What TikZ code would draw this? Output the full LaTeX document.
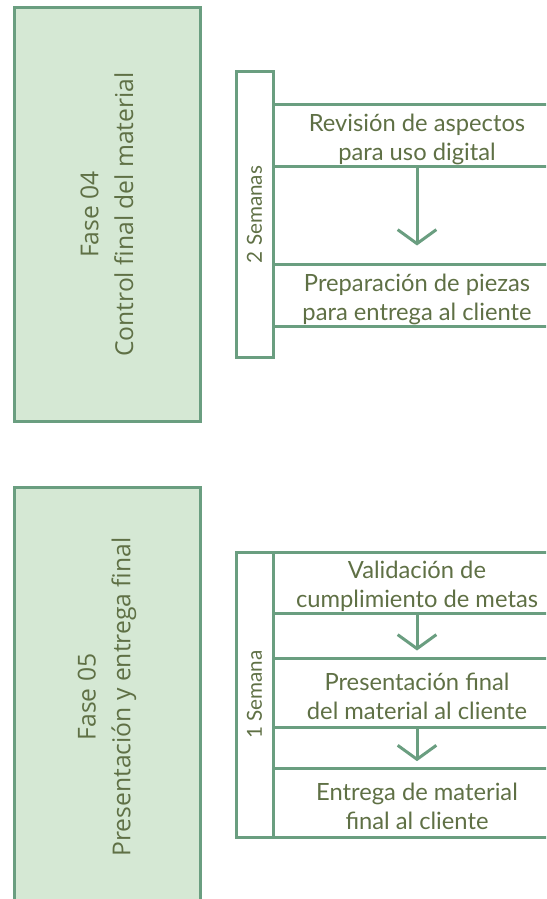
\documentclass[tikz,border=0pt]{standalone}
\usepackage{fontspec}
\setmainfont{Lato}
\newfontfamily\phasefont{Open Sans}
\usepackage{xcolor}
\usetikzlibrary{positioning, arrows.meta}
\definecolor{linegreen}{HTML}{6A9E80}
\definecolor{fillgreen}{HTML}{D5E8D4}
\definecolor{textgreen}{HTML}{5F7045}
\newcommand{\tstrut}{\rule{0pt}{19pt}}

\begin{document}
\begin{tikzpicture}[
    x=0.75pt, y=-0.75pt,
    line width=2.25pt,
    phase/.style={rectangle, draw=linegreen, fill=fillgreen, rotate=90,
        minimum height=139.5pt, inner sep=0pt, align=center, text=textgreen,
        font=\phasefont\fontsize{18.5}{26}\selectfont},
    weeks/.style={rectangle, draw=linegreen, rotate=90, minimum width=213.75pt,
        minimum height=27.75pt, inner sep=0pt, text=textgreen,
        font=\fontsize{15.5}{18}\selectfont},
    task/.style={rectangle, draw=linegreen, minimum width=216pt, inner sep=0pt,
        align=center, text=textgreen, font=\fontsize{17.8}{21.75}\selectfont},
    flow/.style={draw=linegreen, -{Straight Barb[length=10.5pt, width=29pt]}}
]
\useasboundingbox (0,0) rectangle (546,899);
\clip (0,0) rectangle (546,899);

% Fase 04
\node[phase, minimum width=309.75pt] (f4) at (107,214.5) {Fase 04\\Control final del material};
\node[weeks] (w4) at (254.5,214.5) {2 Semanas};
\node[task, minimum height=46.5pt] (a1) at (417,135) {\tstrut Revisión de aspectos\\para uso digital};
\node[task, minimum height=46.5pt] (a2) at (417,295) {\tstrut Preparación de piezas\\para entrega al cliente};

\draw[flow, shorten >=12.75pt] (a1) -- (a2);

% Fase 05
\node[phase, minimum width=315pt] (f5) at (107,697) {Fase 05\\Presentación y entrega final};
\node[weeks] (w5) at (254.5,694.5) {1 Semana};
\node[task, minimum height=45.75pt] (b1) at (417,582.5) {\tstrut Validación de\\cumplimiento de metas};
\node[task, minimum height=51.75pt] (b2) at (417,692.5) {\tstrut Presentación final\\del material al cliente};
\node[task, minimum height=51.75pt] (b3) at (417,802.5) {\tstrut Entrega de material\\final al cliente};

\draw[flow, shorten >=4.5pt] (b1) -- (b2);
\draw[flow, shorten >=4pt] (b2) -- (b3);
\end{tikzpicture}
\end{document}
